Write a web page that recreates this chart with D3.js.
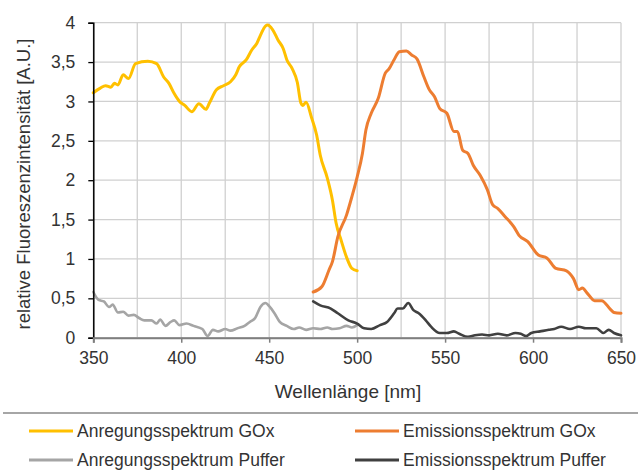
<!DOCTYPE html>
<html><head><meta charset="utf-8">
<script src="https://cdn.jsdelivr.net/npm/d3@7"></script>
<style>body{margin:0;background:#fff}svg{display:block}text{font-family:"Liberation Sans",Arial,sans-serif;fill:#404040}</style>
</head><body>
<script>
// ---- data ----
const anrGOxNm  = [350,354,357,360,362,364,367,370,374,381,386,390,393,396,399,402,406,410,414,416,420,424,428,431,433,437,440,443,445,448,449,452,455,458,460,463,466,468,469,471,474,477,479,483,486,488,491,494,497,500];
const anrGOxVal = [3.11,3.17,3.20,3.18,3.23,3.21,3.34,3.29,3.48,3.51,3.48,3.31,3.23,3.10,3.00,2.95,2.87,2.97,2.90,2.98,3.15,3.20,3.25,3.34,3.44,3.53,3.65,3.74,3.84,3.96,3.97,3.91,3.78,3.67,3.53,3.42,3.24,2.98,2.95,2.99,2.80,2.57,2.32,2.03,1.74,1.46,1.23,1.02,0.88,0.85];
const emGOxNm   = [475,480,484,486,489,494,497,500,503,505,508,512,516,518,521,524,528,531,534,538,541,544,547,551,555,557,560,563,566,570,574,577,580,584,589,592,597,603,608,613,619,623,626,628,631,635,639,644,646,650];
const emGOxVal  = [0.58,0.65,0.86,0.97,1.28,1.56,1.79,2.04,2.34,2.64,2.85,3.04,3.36,3.41,3.53,3.63,3.64,3.59,3.54,3.31,3.15,3.06,2.91,2.85,2.62,2.62,2.38,2.34,2.19,2.06,1.88,1.69,1.64,1.54,1.41,1.30,1.22,1.05,1.01,0.88,0.85,0.75,0.61,0.63,0.56,0.47,0.47,0.36,0.32,0.31];
const anrPufNm  = [350,353,356,359,361,364,367,370,373,376,379,383,386,388,391,394,396,399,403,407,412,415,418,421,425,428,432,436,439,442,445,448,450,453,456,460,464,467,471,475,479,483,486,490,494,497,500];
const anrPufVal = [0.58,0.48,0.46,0.39,0.42,0.32,0.33,0.28,0.29,0.25,0.22,0.22,0.18,0.23,0.15,0.20,0.22,0.16,0.18,0.15,0.11,0.02,0.10,0.08,0.11,0.09,0.12,0.15,0.20,0.25,0.39,0.44,0.40,0.31,0.20,0.15,0.11,0.13,0.10,0.12,0.11,0.13,0.11,0.12,0.15,0.13,0.16];
const emPufNm   = [475,479,485,489,495,500,504,508,513,517,521,523,526,529,532,535,539,542,547,551,555,558,563,567,571,575,580,585,590,593,596,599,604,609,612,616,621,626,630,636,640,643,646,650];
const emPufVal  = [0.46,0.41,0.37,0.31,0.22,0.18,0.12,0.11,0.16,0.20,0.31,0.37,0.37,0.44,0.35,0.31,0.22,0.14,0.06,0.06,0.08,0.05,0.01,0.03,0.04,0.03,0.05,0.03,0.06,0.05,0.02,0.06,0.08,0.10,0.11,0.14,0.11,0.14,0.12,0.12,0.06,0.10,0.06,0.03];
const seriesNames = ["Anregungsspektrum GOx","Emissionsspektrum GOx","Anregungsspektrum Puffer","Emissionsspektrum Puffer"];
const seriesColors = ["#FFC000","#ED7D31","#A5A5A5","#404040"];
const xTicks = [350,400,450,500,550,600,650];
const yTicks = [0,0.5,1,1.5,2,2.5,3,3.5,4];
const xLabel = "Wellenlänge [nm]";
const yLabel = "relative Fluoreszenzintensität [A.U.]";

const W=638,H=470;
const svg=d3.select("body").append("svg").attr("width",W).attr("height",H);
const x=d3.scaleLinear().domain([350,650]).range([93.3,621]);
const y=d3.scaleLinear().domain([0,4]).range([337.7,22.7]);
const fmt=d=>String(d).replace(".",",");

// grid
const gx=d3.range(350,651,25);
svg.append("g").selectAll("line").data(gx).join("line")
  .attr("x1",d=>x(d)).attr("x2",d=>x(d)).attr("y1",y(4)).attr("y2",y(0))
  .attr("stroke","#d0d0d0").attr("stroke-width",1.3);
svg.append("g").selectAll("line").data(yTicks).join("line")
  .attr("x1",x(350)).attr("x2",x(650)).attr("y1",d=>y(d)).attr("y2",d=>y(d))
  .attr("stroke","#d0d0d0").attr("stroke-width",1.3);

// lines
const data=[[anrGOxNm,anrGOxVal],[emGOxNm,emGOxVal],[anrPufNm,anrPufVal],[emPufNm,emPufVal]];
const line=d3.line().x(d=>x(d[0])).y(d=>y(d[1])).curve(d3.curveMonotoneX);
data.forEach((s,i)=>{
  const pts=s[0].map((n,j)=>[n,s[1][j]]);
  svg.append("path").datum(pts).attr("d",line).attr("fill","none")
    .attr("stroke",seriesColors[i]).attr("stroke-width",i<2?3:2.6)
    .attr("stroke-linejoin","round").attr("stroke-linecap","round");
});

// y axis
const ya=svg.append("g").attr("transform",`translate(${x(350)},0)`)
  .call(d3.axisLeft(y).tickValues(yTicks).tickFormat(fmt).tickSize(5).tickPadding(13));
ya.select(".domain").attr("stroke","#000").attr("stroke-width",1.5);
ya.selectAll(".tick line").attr("stroke","#000").attr("stroke-width",1.3);
ya.selectAll("text").attr("font-size",17.5).style("fill","#333");

// x axis
const xa=svg.append("g").attr("transform",`translate(0,${y(0)})`)
  .call(d3.axisBottom(x).tickValues(xTicks).tickSize(5).tickPadding(9));
xa.select(".domain").attr("stroke","#7f7f7f").attr("stroke-width",2);
xa.selectAll(".tick line").attr("stroke","#7f7f7f").attr("stroke-width",1.5);
xa.selectAll("text").attr("font-size",17.5).style("fill","#333");

// titles
svg.append("text").attr("x",348).attr("y",398).attr("text-anchor","middle")
  .attr("font-size",19).style("fill","#333").text(xLabel);
svg.append("text").attr("transform","translate(30,184) rotate(-90)").attr("text-anchor","middle")
  .attr("font-size",18.5).style("fill","#333").text(yLabel);

// legend separator
svg.append("line").attr("x1",3).attr("x2",638).attr("y1",413).attr("y2",413)
  .attr("stroke","#a6a6a6").attr("stroke-width",2);

const legPos=[[29,431],[355,431],[29,460],[355,460]];
seriesNames.forEach((n,i)=>{
  const [lx,ly]=legPos[i];
  svg.append("line").attr("x1",lx).attr("x2",lx+44).attr("y1",ly).attr("y2",ly)
    .attr("stroke",seriesColors[i]).attr("stroke-width",3);
  svg.append("text").attr("x",lx+48).attr("y",ly+6).attr("font-size",17.5).style("fill","#333").text(n);
});
</script>
</body></html>
